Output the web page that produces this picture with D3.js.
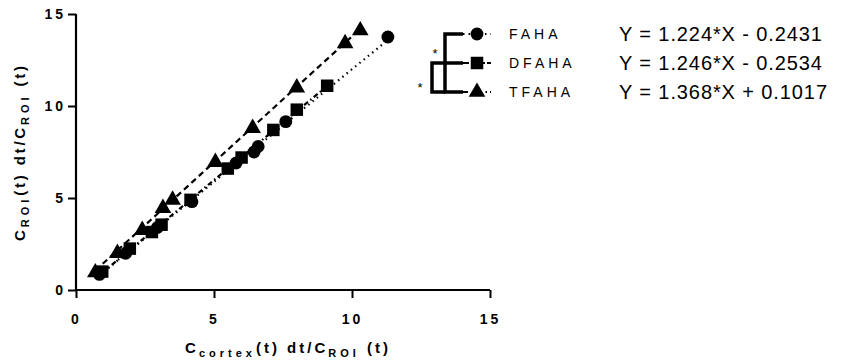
<!DOCTYPE html>
<html>
<head>
<meta charset="utf-8">
<script src="https://cdn.jsdelivr.net/npm/d3@7"></script>
<style>
  body { margin: 0; background: #fff; }
  svg text { font-family: "Liberation Sans", Arial, sans-serif; fill: #000; }
</style>
</head>
<body>
<div id="chart"></div>
<script>
const size = { width: 841, height: 360 };
const margin = { top: 14, right: 351, bottom: 70, left: 76 };
const plotW = size.width - margin.left - margin.right;
const plotH = size.height - margin.top - margin.bottom;

// data
const seriesNames = ['FAHA', 'DFAHA', 'TFAHA'];
const fahaX = [0.85, 1.8, 2.95, 4.2, 5.8, 6.45, 6.6, 7.6, 11.3];
const fahaY = [0.85, 2.0, 3.4, 4.8, 6.9, 7.5, 7.8, 9.15, 13.75];
const dfahaX = [0.95, 1.95, 2.75, 3.1, 4.15, 5.5, 6.0, 7.15, 8.0, 9.1];
const dfahaY = [1.0, 2.25, 3.15, 3.55, 4.9, 6.6, 7.2, 8.7, 9.8, 11.1];
const tfahaX = [0.7, 1.5, 2.4, 3.15, 3.5, 5.05, 6.4, 8.0, 9.75, 10.3];
const tfahaY = [0.95, 2.0, 3.25, 4.45, 4.9, 6.95, 8.8, 11.0, 13.4, 14.1];
const slopes = [1.224, 1.246, 1.368];
const intercepts = [-0.2431, -0.2534, 0.1017];
const equations = ['Y = 1.224*X - 0.2431', 'Y = 1.246*X - 0.2534', 'Y = 1.368*X + 0.1017'];
const majorTicks = [0, 5, 10, 15];

const series = [
    { name: seriesNames[0], xs: fahaX, ys: fahaY, shape: d3.symbolCircle, area: 130, dash: '1.5,4' },
    { name: seriesNames[1], xs: dfahaX, ys: dfahaY, shape: d3.symbolSquare, area: 156, dash: '5,3,1.5,3' },
    { name: seriesNames[2], xs: tfahaX, ys: tfahaY, shape: d3.symbolTriangle, area: 120, dash: '6,4' }
];

const svg = d3.select('#chart')
    .append('svg')
    .attr('width', size.width)
    .attr('height', size.height);

const graph = svg.append('g')
    .attr('transform', `translate(${margin.left}, ${margin.top})`);

const x = d3.scaleLinear().domain([0, 15]).range([0, plotW]);
const y = d3.scaleLinear().domain([0, 15]).range([plotH, 0]);

const minor = d3.range(0, 15.01, 0.5);

// minor ticks first, then the axis with the major ones
const xAxisG = graph.append('g').attr('transform', `translate(0, ${plotH})`);
xAxisG.call(d3.axisBottom(x).tickValues(minor).tickSize(4).tickFormat(''));
xAxisG.call(d3.axisBottom(x).tickValues(majorTicks).tickSize(8).tickPadding(16));

const yAxisG = graph.append('g');
yAxisG.call(d3.axisLeft(y).tickValues(minor).tickSize(4).tickFormat(''));
yAxisG.call(d3.axisLeft(y).tickValues(majorTicks).tickSize(8).tickPadding(2));

[xAxisG, yAxisG].forEach(g => {
    g.selectAll('.domain').attr('stroke', '#000').attr('stroke-width', 2.2);
    g.selectAll('line').attr('stroke', '#000').attr('stroke-width', 2);
    g.selectAll('text')
        .style('font-size', '14px')
        .style('font-weight', 'bold')
        .style('letter-spacing', '3px')
        .style('font-family', '"Liberation Sans", Arial, sans-serif');
});
xAxisG.selectAll('.domain').attr('d', `M0,0H${plotW}`);
yAxisG.selectAll('.domain').attr('d', `M0,${plotH}V0`);

// fit lines
series.forEach((s, i) => {
    const x0 = d3.min(s.xs), x1 = d3.max(s.xs);
    graph.append('line')
        .attr('x1', x(x0)).attr('y1', y(slopes[i] * x0 + intercepts[i]))
        .attr('x2', x(x1)).attr('y2', y(slopes[i] * x1 + intercepts[i]))
        .attr('stroke', '#000')
        .attr('stroke-width', 2.2)
        .attr('stroke-dasharray', s.dash);
});

// markers
series.forEach(s => {
    graph.selectAll(null)
        .data(s.xs.map((v, k) => [v, s.ys[k]]))
        .enter()
        .append('path')
        .attr('d', d3.symbol().type(s.shape).size(s.area))
        .attr('transform', d => `translate(${x(d[0])}, ${y(d[1])})`)
        .attr('fill', '#000');
});

// axis titles
const xTitle = svg.append('text')
    .attr('x', margin.left + plotW / 2 + 5)
    .attr('y', 353)
    .attr('text-anchor', 'middle')
    .style('font-weight', 'bold')
    .style('font-size', '15px')
    .style('letter-spacing', '3px');
xTitle.append('tspan').text('C');
xTitle.append('tspan').attr('dy', 4).style('font-size', '11px').style('letter-spacing', '4px').text('cortex');
xTitle.append('tspan').attr('dy', -4).text('(t) dt/C');
xTitle.append('tspan').attr('dy', 4).style('font-size', '11px').style('letter-spacing', '4px').text('ROI');
xTitle.append('tspan').attr('dy', -4).text(' (t)');

const yTitle = svg.append('text')
    .attr('transform', `translate(25, ${margin.top + plotH / 2}) rotate(-90)`)
    .attr('text-anchor', 'middle')
    .style('font-weight', 'bold')
    .style('font-size', '15px')
    .style('letter-spacing', '2.8px');
yTitle.append('tspan').text('C');
yTitle.append('tspan').attr('dy', 4).style('font-size', '11px').style('letter-spacing', '4px').text('ROI');
yTitle.append('tspan').attr('dy', -4).text('(t) dt/C');
yTitle.append('tspan').attr('dy', 4).style('font-size', '11px').style('letter-spacing', '4px').text('ROI');
yTitle.append('tspan').attr('dy', -4).text(' (t)');

// legend with significance brackets
const rowY = [34, 63, 92];
const legend = svg.append('g');
const thick = 3.5;

legend.append('path')
    .attr('d', `M463,${rowY[0]}H445V${rowY[2]}H463`)
    .attr('fill', 'none').attr('stroke', '#000').attr('stroke-width', thick);
legend.append('path')
    .attr('d', `M445,${rowY[1]}H432V${rowY[2]}H445`)
    .attr('fill', 'none').attr('stroke', '#000').attr('stroke-width', thick);
legend.append('line')
    .attr('x1', 445).attr('x2', 463).attr('y1', rowY[1]).attr('y2', rowY[1])
    .attr('stroke', '#000').attr('stroke-width', thick);

legend.append('text').attr('x', 435).attr('y', 58).attr('text-anchor', 'middle')
    .style('font-size', '13px').text('*');
legend.append('text').attr('x', 420).attr('y', 92).attr('text-anchor', 'middle')
    .style('font-size', '13px').text('*');

series.forEach((s, i) => {
    const row = legend.append('g').attr('transform', `translate(0, ${rowY[i]})`);
    row.append('line')
        .attr('x1', 463).attr('x2', 491)
        .attr('stroke', '#000').attr('stroke-width', 2.2)
        .attr('stroke-dasharray', i === 0 ? '1.5,4' : (i === 1 ? '6,2' : '5,4,1.5,3'));
    row.append('path')
        .attr('d', d3.symbol().type(s.shape).size(s.area))
        .attr('transform', 'translate(477, 0)')
        .attr('fill', '#000');
    row.append('text')
        .attr('x', 509).attr('y', 5)
        .style('font-size', '14px')
        .style('letter-spacing', '4px')
        .text(s.name);
    row.append('text')
        .attr('x', 619).attr('y', 7)
        .style('font-size', '20px')
        .style('letter-spacing', '0.9px')
        .text(equations[i]);
});
</script>
</body>
</html>
